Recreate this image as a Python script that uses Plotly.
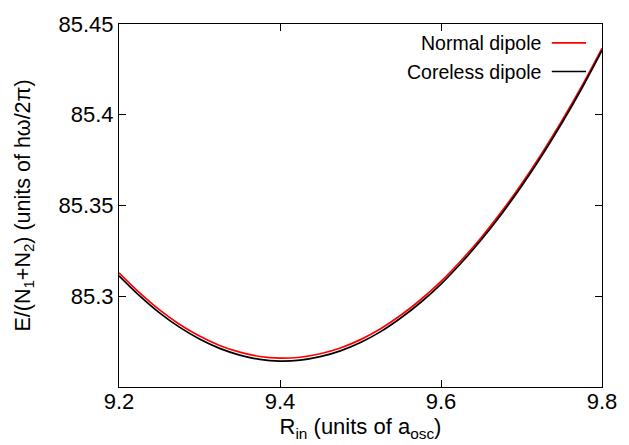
import plotly.graph_objects as go

r_in = [9.200, 9.225, 9.250, 9.275, 9.300, 9.325, 9.350, 9.375, 9.400, 9.425,
        9.450, 9.475, 9.500, 9.525, 9.550, 9.575, 9.600, 9.625, 9.650, 9.675,
        9.700, 9.725, 9.750, 9.775, 9.800]
normal_dipole = [85.3129, 85.3021, 85.2926, 85.2846, 85.2781, 85.2729, 85.2692, 85.2668, 85.2659, 85.2664,
                 85.2683, 85.2715, 85.2761, 85.2821, 85.2895, 85.2982, 85.3082, 85.3197, 85.3324, 85.3465,
                 85.3619, 85.3786, 85.3966, 85.4159, 85.4366]
coreless_dipole = [85.3113, 85.3005, 85.2910, 85.2830, 85.2765, 85.2713, 85.2676, 85.2652, 85.2643, 85.2648,
                   85.2667, 85.2699, 85.2745, 85.2805, 85.2880, 85.2967, 85.3067, 85.3183, 85.3311, 85.3452,
                   85.3606, 85.3773, 85.3953, 85.4146, 85.4354]
series_names = ["Normal dipole", "Coreless dipole"]
series_colors = ["#ff0000", "#000000"]
x_ticks = [9.2, 9.4, 9.6, 9.8]
y_ticks = [85.3, 85.35, 85.4, 85.45]
y_tick_text = ["85.3", "85.35", "85.4", "85.45"]

FONT = "Liberation Sans, Arial, sans-serif"

fig = go.Figure()
for name, ys, col in zip(series_names, [normal_dipole, coreless_dipole], series_colors):
    fig.add_trace(go.Scatter(x=r_in, y=ys, mode="lines", name=name,
                             line=dict(color=col, width=1.7, shape="spline"),
                             showlegend=False))

# gnuplot-style key: right-aligned text, line sample to the right
key_y = [0.948, 0.869]
for name, col, ky in zip(series_names, series_colors, key_y):
    fig.add_annotation(x=0.877, y=ky, xref="paper", yref="paper", text=name,
                       showarrow=False, xanchor="right", yanchor="middle",
                       font=dict(family=FONT, size=19.5, color="black"))
    fig.add_shape(type="line", xref="paper", yref="paper", x0=0.896, x1=0.967,
                  y0=ky, y1=ky, line=dict(color=col, width=1.6))

axis_common = dict(showline=True, linecolor="black", linewidth=1, mirror="allticks",
                   ticks="inside", ticklen=7, tickcolor="black", showgrid=False,
                   zeroline=False, tickfont=dict(family=FONT, size=22, color="black"))

fig.update_layout(
    width=629, height=445,
    margin=dict(l=119, r=21, t=18, b=58),
    paper_bgcolor="white", plot_bgcolor="white",
    font=dict(family=FONT, size=22, color="black"),
    xaxis=dict(range=[9.2, 9.8], tickvals=x_ticks, ticktext=[str(v) for v in x_ticks],
               ticklabelstandoff=-5,
               title=dict(text="R<sub>in</sub> (units of a<sub>osc</sub>)",
                          font=dict(family=FONT, size=22), standoff=2),
               **axis_common),
    yaxis=dict(range=[85.25, 85.45], tickvals=y_ticks, ticktext=y_tick_text,
               ticklabelstandoff=0,
               title=dict(text="E/(N<sub>1</sub>+N<sub>2</sub>) (units of hω/2π)",
                          font=dict(family=FONT, size=21.5), standoff=22),
               **axis_common),
)

fig.write_html("out.html")
